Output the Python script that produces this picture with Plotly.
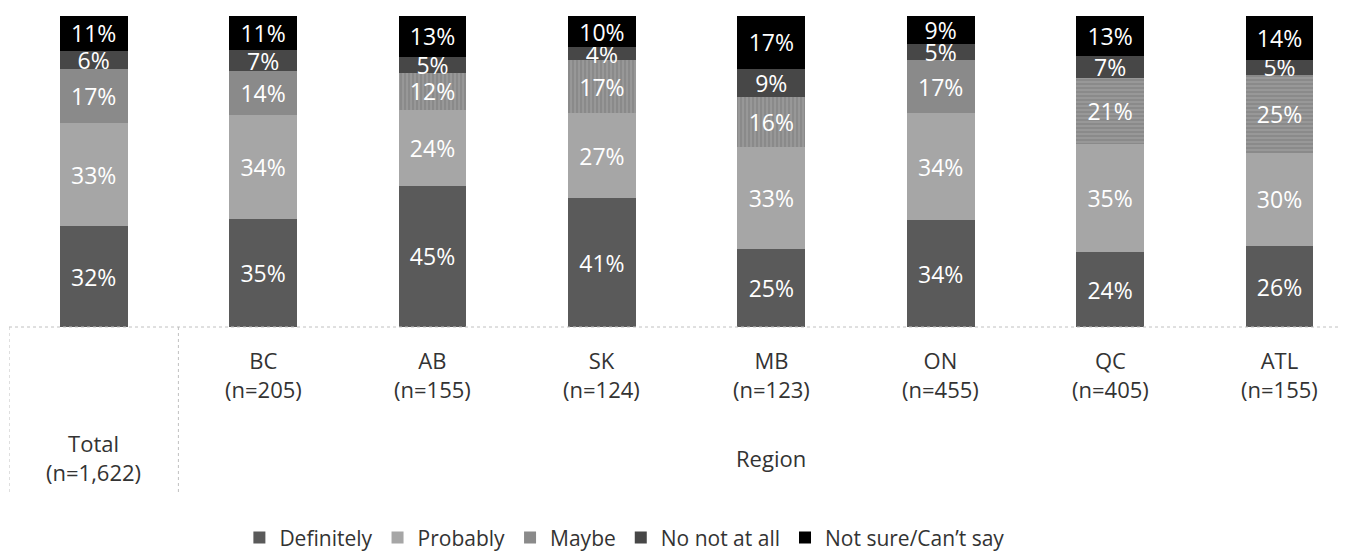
import plotly.graph_objects as go

categories = ["Total", "BC", "AB", "SK", "MB", "ON", "QC", "ATL"]
cat_names = ["Total", "BC", "AB", "SK", "MB", "ON", "QC", "ATL"]
cat_n = ["(n=1,622)", "(n=205)", "(n=155)", "(n=124)", "(n=123)", "(n=455)", "(n=405)", "(n=155)"]
group_label = "Region"

definitely = [32, 35, 45, 41, 25, 34, 24, 26]
probably = [33, 34, 24, 27, 33, 34, 35, 30]
maybe = [17, 14, 12, 17, 16, 17, 21, 25]
no_not_at_all = [6, 7, 5, 4, 9, 5, 7, 5]
not_sure = [11, 11, 13, 10, 17, 9, 13, 14]

series = [
    ("Definitely", definitely, "#5a5a5a"),
    ("Probably", probably, "#a6a6a6"),
    ("Maybe", maybe, "#8a8a8a"),
    ("No not at all", no_not_at_all, "#474747"),
    ("Not sure/Can\u2019t say", not_sure, "#000000"),
]

maybe_patterns = ["", "", "|", "|", "|", "", "-", "-"]

FONT = "Open Sans"
TXT = "#333333"
BAR_FS = 23
LAB_FS = 22
LEG_FS = 21

fig = go.Figure()
for name, vals, color in series:
    marker = dict(color=color, line=dict(width=0))
    if name == "Maybe":
        marker["pattern"] = dict(shape=maybe_patterns, fillmode="overlay",
                                 fgcolor="#b0b0b0", fgopacity=0.5, size=4, solidity=0.35)
    fig.add_trace(go.Bar(
        name=name, x=categories, y=vals,
        text=[f"{v}%" for v in vals],
        textposition="inside", insidetextanchor="middle", textangle=0,
        textfont=dict(color="white", size=BAR_FS, family=FONT),
        marker=marker, hoverinfo="skip",
    ))

# figure is placed at page (8, 0) in the screenshot
OFFX, OFFY = 8, 0
W, H = 1349 - 2 * OFFX, 551
PLOT_LEFT_PAGE, PLOT_TOP_PAGE, PLOT_BOTTOM_PAGE = 9, 8, 328
PLOT_H = PLOT_BOTTOM_PAGE - PLOT_TOP_PAGE
UNIT = 169.4                        # pixels per category
x_end = -0.5 + (OFFX + W - PLOT_LEFT_PAGE) / UNIT

def py(page_y):
    return -(page_y - PLOT_BOTTOM_PAGE) / PLOT_H

lab_font = dict(size=LAB_FS, family=FONT, color=TXT)
for i, c in enumerate(categories):
    yc = 462 if i == 0 else 377
    fig.add_annotation(x=c, y=py(yc), xref="x", yref="paper",
                       text=f"{cat_names[i]}<br>{cat_n[i]}",
                       showarrow=False, font=lab_font, yanchor="middle")
fig.add_annotation(x=4, y=py(463), xref="x", yref="paper", text=group_label, showarrow=False,
                   font=lab_font, yanchor="middle")

line_style = dict(color="#c0c0c0", width=1, dash="dot")
fig.add_shape(type="line", xref="paper", yref="paper", x0=0, x1=1, y0=0, y1=0, line=line_style)
fig.add_shape(type="line", xref="x", yref="paper", x0=-0.5, x1=-0.5, y0=0, y1=py(500), line=line_style)
fig.add_shape(type="line", xref="x", yref="paper", x0=0.5, x1=0.5, y0=0, y1=py(500), line=line_style)

fig.update_layout(
    width=W, height=H,
    margin=dict(l=PLOT_LEFT_PAGE - OFFX, r=0, t=PLOT_TOP_PAGE - OFFY,
                b=OFFY + H - PLOT_BOTTOM_PAGE, pad=0),
    barmode="stack", barnorm="percent", bargap=0.6,
    plot_bgcolor="white", paper_bgcolor="white",
    uniformtext=dict(mode="show", minsize=BAR_FS),
    xaxis=dict(showticklabels=False, showgrid=False, zeroline=False, showline=False,
               range=[-0.5, x_end], fixedrange=True),
    yaxis=dict(visible=False, range=[0, 100], fixedrange=True),
    legend=dict(orientation="h", x=0.462, xanchor="center", y=py(545), yanchor="middle",
                font=dict(size=LEG_FS, family=FONT, color=TXT), traceorder="normal",
                itemclick=False, itemwidth=30),
    font=dict(family=FONT),
)

fig.write_html("out.html")
